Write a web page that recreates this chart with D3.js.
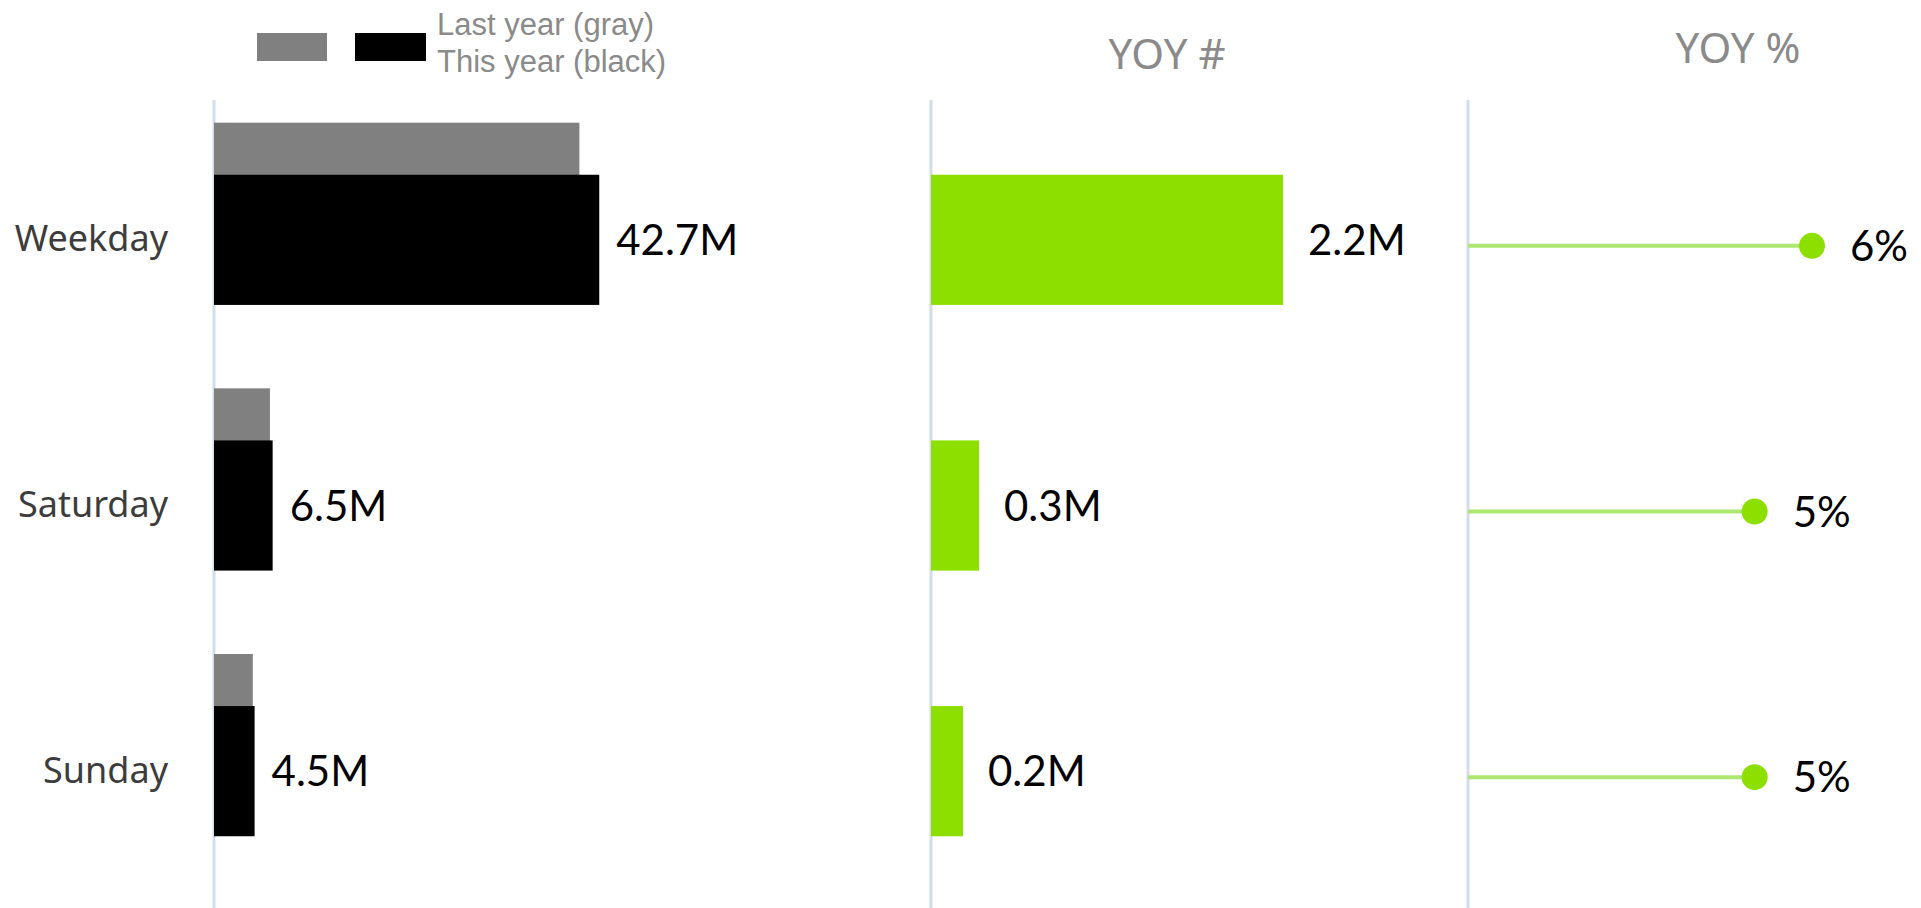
<!DOCTYPE html>
<html>
<head>
<meta charset="utf-8">
<script src="https://cdn.jsdelivr.net/npm/d3@7"></script>
<style>
  html, body { margin: 0; padding: 0; background: #ffffff; }
  svg { display: block; }
</style>
</head>
<body>
<svg id="chart" width="1921" height="908"></svg>
<script>
// Day types and their values (millions / share)
const categories = ["Weekday", "Saturday", "Sunday"];
const thisYear = [42.7, 6.5, 4.5];
const lastYear = [40.5, 6.2, 4.3];
const yoyAbs = [2.2, 0.3, 0.2];
const yoyPct = [0.06, 0.05, 0.05];
const legendLabels = ["Last year (gray)", "This year (black)"];
const panelTitles = ["YOY #", "YOY %"];

const svg = d3.select("#chart");
const W = 1921, H = 908;

const colors = {
  last: "#808080",
  current: "#000000",
  green: "#8ddf00",
  stem: "#ace871",
  axis: "#d3dcec",
  label: "#3c3c3c",
  title: "#8a8a8a"
};

const fmtM = d => d3.format(".1f")(d) + "M";
const fmtPct = d3.format(".0%");

// shared row scale
const y = d3.scaleBand().domain(categories).range([107, 904]).padding(0);
const barH = y.bandwidth() * 0.49;
const yc = c => y(c) + y.bandwidth() / 2;

// one horizontal scale per panel
const x1 = d3.scaleLinear().domain([0, 45]).range([214, 620]);
const x2 = d3.scaleLinear().domain([0, 2.5]).range([931, 1331]);
const x3 = d3.scaleLinear().domain([0, 0.07]).range([1468, 1869.3]);

const valueFont = "Lato, 'Noto Sans', sans-serif";
const valueSize = "42px";

// ---- axis lines
[x1, x2, x3].forEach(s => {
  svg.append("line")
    .attr("x1", s(0)).attr("x2", s(0))
    .attr("y1", 100).attr("y2", H)
    .attr("stroke", colors.axis).attr("stroke-width", 3);
});

// ---- left panel: category axis
const yAxis = d3.axisLeft(y).tickSize(0).tickPadding(46);
const gAxis = svg.append("g").attr("transform", `translate(${x1(0)},0)`).call(yAxis);
gAxis.select(".domain").remove();
gAxis.selectAll("text")
  .attr("fill", colors.label)
  .style("font-family", "'Noto Sans', 'Open Sans', sans-serif")
  .style("font-size", "36px");

const rows = categories.map((c, i) => ({
  cat: c, cur: thisYear[i], prev: lastYear[i], abs: yoyAbs[i], pct: yoyPct[i]
}));

// last year bars (behind, raised)
svg.append("g").selectAll("rect").data(rows).join("rect")
  .attr("x", x1(0))
  .attr("y", d => yc(d.cat) - barH * 0.9)
  .attr("width", d => x1(d.prev) - x1(0))
  .attr("height", barH)
  .attr("fill", colors.last);

// this year bars
svg.append("g").selectAll("rect").data(rows).join("rect")
  .attr("x", x1(0))
  .attr("y", d => yc(d.cat) - barH / 2)
  .attr("width", d => x1(d.cur) - x1(0))
  .attr("height", barH)
  .attr("fill", colors.current);

svg.append("g").selectAll("text").data(rows).join("text")
  .attr("x", d => x1(d.cur) + 17)
  .attr("y", d => yc(d.cat))
  .attr("dy", "0.36em")
  .style("font-family", valueFont)
  .style("font-size", valueSize)
  .attr("fill", "#000")
  .text(d => fmtM(d.cur));

// ---- legend
const legend = svg.append("g");
legend.append("rect").attr("x", 257).attr("y", 33).attr("width", 70).attr("height", 28).attr("fill", colors.last);
legend.append("rect").attr("x", 355).attr("y", 33).attr("width", 71).attr("height", 28).attr("fill", colors.current);
legend.selectAll("text").data(legendLabels).join("text")
  .attr("x", 437)
  .attr("y", (d, i) => 35 + i * 37)
  .style("font-family", "'Liberation Sans', Arial, sans-serif")
  .style("font-size", "31px")
  .attr("fill", colors.title)
  .text(d => d);

// ---- middle panel: YOY #
svg.append("text")
  .attr("x", 1167).attr("y", 69)
  .attr("text-anchor", "middle")
  .style("font-family", "'Noto Sans', 'Open Sans', sans-serif")
  .style("font-size", "42px")
  .attr("fill", colors.title)
  .text(panelTitles[0]);

svg.append("g").selectAll("rect").data(rows).join("rect")
  .attr("x", x2(0))
  .attr("y", d => yc(d.cat) - barH / 2)
  .attr("width", d => x2(d.abs) - x2(0))
  .attr("height", barH)
  .attr("fill", colors.green);

svg.append("g").selectAll("text").data(rows).join("text")
  .attr("x", d => x2(d.abs) + 25)
  .attr("y", d => yc(d.cat))
  .attr("dy", "0.36em")
  .style("font-family", valueFont)
  .style("font-size", valueSize)
  .attr("fill", "#000")
  .text(d => fmtM(d.abs));

// ---- right panel: YOY % lollipops
svg.append("text")
  .attr("x", 1738).attr("y", 63)
  .attr("text-anchor", "middle")
  .style("font-family", "'Noto Sans', 'Open Sans', sans-serif")
  .style("font-size", "42px")
  .attr("fill", colors.title)
  .text(panelTitles[1]);

const lolly = svg.append("g").selectAll("g").data(rows).join("g");
lolly.append("line")
  .attr("x1", x3(0))
  .attr("x2", d => x3(d.pct))
  .attr("y1", d => yc(d.cat) + 6)
  .attr("y2", d => yc(d.cat) + 6)
  .attr("stroke", colors.stem)
  .attr("stroke-width", 4);
lolly.append("circle")
  .attr("cx", d => x3(d.pct))
  .attr("cy", d => yc(d.cat) + 6)
  .attr("r", 13)
  .attr("fill", colors.green);
lolly.append("text")
  .attr("x", d => x3(d.pct) + 38)
  .attr("y", d => yc(d.cat) + 6)
  .attr("dy", "0.36em")
  .style("font-family", valueFont)
  .style("font-size", valueSize)
  .attr("fill", "#000")
  .text(d => fmtPct(d.pct));
</script>
</body>
</html>
